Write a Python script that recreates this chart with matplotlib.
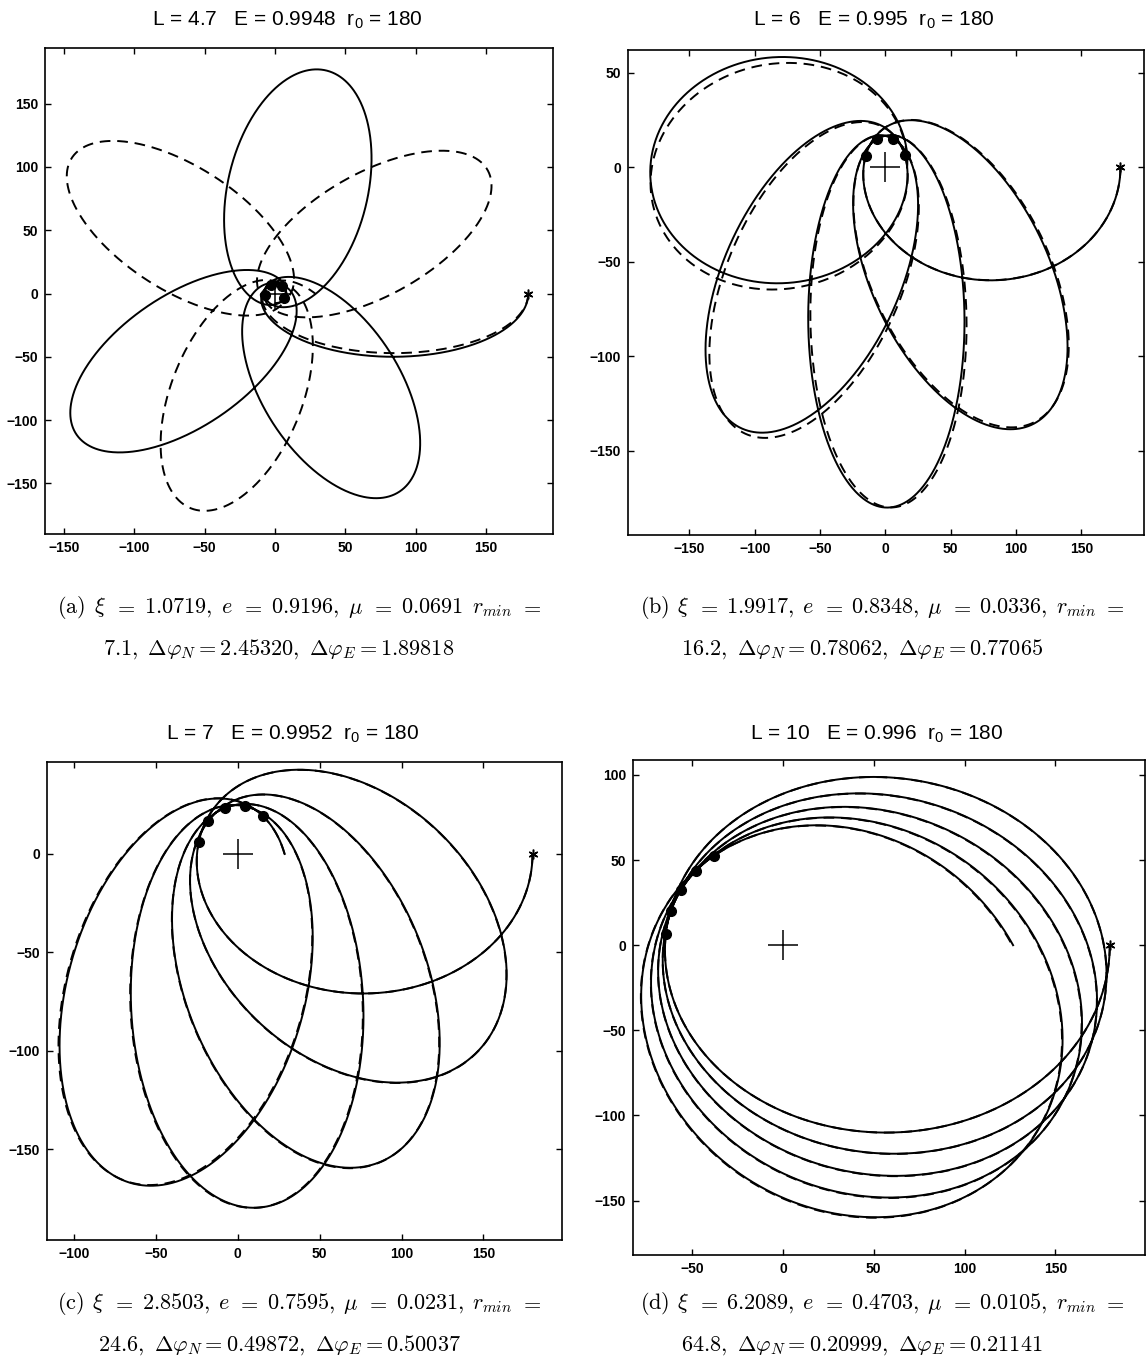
import numpy as np
import matplotlib
matplotlib.use("Agg")
import matplotlib.pyplot as plt
from matplotlib.ticker import MultipleLocator

# ---- orbit parameters for the four cases ----
panel_tags = ["a", "b", "c", "d"]
L_values = [4.7, 6, 7, 10]
E_values = ["0.9948", "0.995", "0.9952", "0.996"]
r0 = 180
xi_values = [1.0719, 1.9917, 2.8503, 6.2089]
ecc_values = [0.9196, 0.8348, 0.7595, 0.4703]
mu_values = [0.0691, 0.0336, 0.0231, 0.0105]
rmin_values = [7.1, 16.2, 24.6, 64.8]
dphi_N = [2.45320, 0.78062, 0.49872, 0.20999]
dphi_E = [1.89818, 0.77065, 0.50037, 0.21141]
revolutions = 5

# axis ranges of each panel
xlims = [(-163.5, 197.6), (-197, 198), (-116.5, 198), (-82.6, 199.4)]
ylims = [(-190, 194), (-194.5, 62), (-196, 46.7), (-182, 108.8)]

# panel boxes in pixels: left, right, top, bottom
boxes = [(45, 553, 48, 534), (628, 1144, 50, 535),
         (47, 562, 762, 1240), (633, 1145, 760, 1255)]
title_y = [20, 20, 734, 734]
title_shift = -12
caption_base = [(613, 655), (613, 655), (1309, 1351), (1309, 1351)]
caption_x = [(57, 542), (640, 1125), (57, 542), (640, 1125)]
caption2_cx = [279, 862, 279, 862]

W, H = 1148, 1370
plt.rcParams["mathtext.fontset"] = "cm"
plt.rcParams["mathtext.rm"] = "Liberation Sans"
fig = plt.figure(figsize=(W / 100, H / 100), dpi=100)
renderer = fig.canvas.get_renderer()


def precessing_orbit(ecc, dphi, r_apo, turns, n=8000):
    """Precessing conic that starts at apocentre r_apo and moves clockwise."""
    phi = np.linspace(0.0, 2 * np.pi * turns, n)
    k = 2 * np.pi / (2 * np.pi + dphi)
    r = r_apo * (1 - ecc) / (1 - ecc * np.cos(k * phi))
    return r * np.cos(-phi), r * np.sin(-phi), k


def pericentres(ecc, k, r_apo, turns):
    n_max = int(np.floor((2 * turns * k - 1) / 2))
    phi = (2 * np.arange(n_max + 1) + 1) * np.pi / k
    r = r_apo * (1 - ecc) / (1 + ecc)
    return r * np.cos(-phi), r * np.sin(-phi)


def justified_line(tokens, x0, x1, y, size):
    """Spread math tokens evenly between x0 and x1 (pixels) on baseline y."""
    texts = [fig.text(0, 1 - y / H, t, fontsize=size, va="baseline", ha="left")
             for t in tokens]
    widths = [t.get_window_extent(renderer).width for t in texts]
    gap = (x1 - x0 - sum(widths)) / (len(tokens) - 1)
    x = x0
    for t, w in zip(texts, widths):
        t.set_x(x / W)
        x += w + gap


for i in range(4):
    left, right, top, bottom = boxes[i]
    ax = fig.add_axes([left / W, 1 - bottom / H, (right - left) / W, (bottom - top) / H])

    xs, ys, k_s = precessing_orbit(ecc_values[i], dphi_N[i], r0, revolutions)
    xd, yd, _ = precessing_orbit(ecc_values[i], dphi_E[i], r0, revolutions)
    ax.plot(xd, yd, color="black", lw=1.4, dashes=(5.5, 3.5))
    ax.plot(xs, ys, color="black", lw=1.4)
    px, py = pericentres(ecc_values[i], k_s, r0, revolutions)
    ax.plot(px, py, "o", color="black", ms=7)
    ax.plot([0], [0], "+", color="black", ms=21, mew=1.1)
    ax.plot([r0], [0], marker=(6, 2, 0), color="black", ms=7, mew=1.1)

    ax.set_xlim(*xlims[i])
    ax.set_ylim(*ylims[i])
    ax.xaxis.set_major_locator(MultipleLocator(50))
    ax.yaxis.set_major_locator(MultipleLocator(50))
    ax.tick_params(direction="in", top=True, right=True, length=4, width=1,
                   labelsize=10, pad=5)
    for lab in ax.get_xticklabels() + ax.get_yticklabels():
        lab.set_fontweight("bold")
        lab.set_family("Liberation Sans")
    for sp in ax.spines.values():
        sp.set_linewidth(1.2)

    cx = (left + right) / 2 + title_shift
    title = "L = {:g}   E = {}  r$_{{\\mathrm{{0}}}}$ = {}".format(L_values[i], E_values[i], r0)
    fig.text(cx / W, 1 - title_y[i] / H, title, ha="center", va="center",
             fontsize=15, family="Liberation Sans", math_fontfamily="custom")

    sep = "" if i == 0 else ","
    tokens = [r"$\mathrm{(" + panel_tags[i] + r")}$", r"$\xi$", r"$=$",
              "${:.4f},$".format(xi_values[i]), r"$e$", r"$=$",
              "${:.4f},$".format(ecc_values[i]), r"$\mu$", r"$=$",
              "${:.4f}{}$".format(mu_values[i], sep), r"$r_{min}$", r"$=$"]
    justified_line(tokens, caption_x[i][0], caption_x[i][1], caption_base[i][0], 16)

    line2 = (r"$" + "{:.1f}".format(rmin_values[i]) + r",\ \Delta\varphi_N = "
             + "{:.5f}".format(dphi_N[i]) + r",\ \Delta\varphi_E = "
             + "{:.5f}".format(dphi_E[i]) + r"$")
    fig.text(caption2_cx[i] / W, 1 - caption_base[i][1] / H, line2,
             ha="center", va="baseline", fontsize=16)

fig.savefig("out.png", dpi=100, facecolor="white")
